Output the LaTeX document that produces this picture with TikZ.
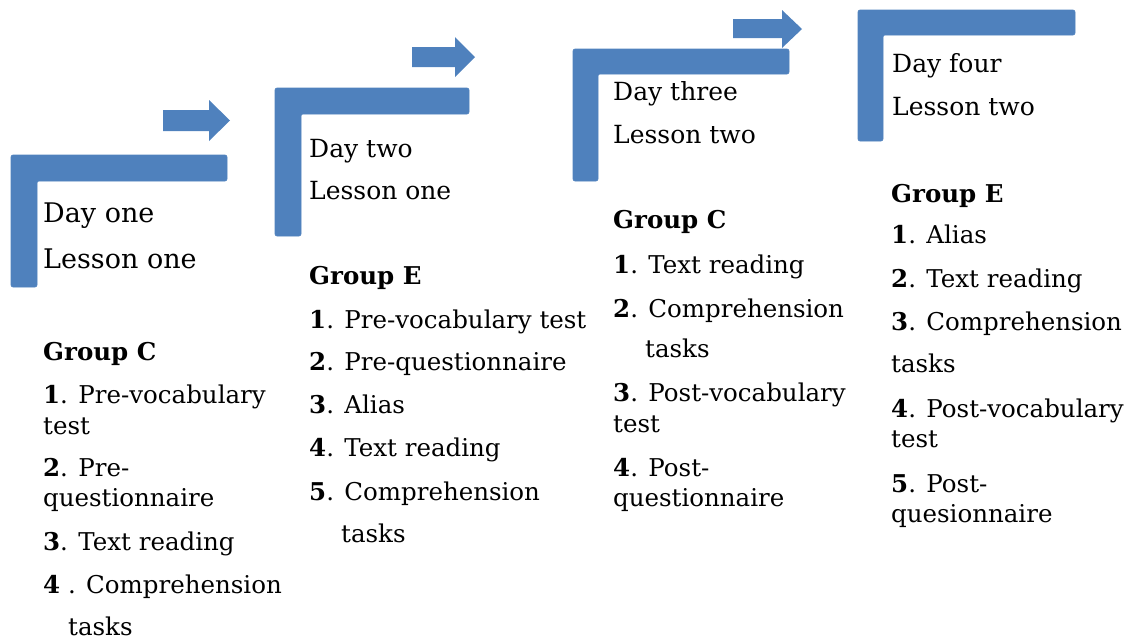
\documentclass[tikz,border=0pt]{standalone}
\usepackage{fontspec}
\setmainfont{DejaVu Serif}
\definecolor{officeblue}{HTML}{4F81BD}
\tikzset{
  lshape/.style={fill=officeblue, draw=officeblue, line width=0.6pt, rounded corners=2pt},
  bluearrow/.style={fill=officeblue, draw=none},
  daytext/.style={anchor=base west, inner sep=0pt, font=\fontsize{25}{30}\selectfont},
  daytextbig/.style={anchor=base west, inner sep=0pt, font=\fontsize{27}{32}\selectfont},
  listtext/.style={anchor=base west, inner sep=0pt, font=\fontsize{24.5}{29}\selectfont},
}
% x0 y0 x1(right end) y1(bottom end) thickness
\newcommand{\Lshape}[5]{%
  \draw[lshape] (#1,#2) -- (#3,#2) -- (#3,#2+#5) -- (#1+#5,#2+#5) -- (#1+#5,#4) -- (#1,#4) -- cycle;}
\begin{document}
\begin{tikzpicture}[x=1pt,y=-1pt]
\useasboundingbox (0,0) rectangle (1130,641);
% --- L-shaped bent arrows ---
\Lshape{11}{155}{227}{287}{26}
\Lshape{275}{88}{469}{236}{26}
\Lshape{573}{49}{789}{181}{25}
\Lshape{858}{10}{1075}{141}{25}
% --- right arrows ---
\fill[bluearrow] (163,110) -- (209,110) -- (209,100) -- (230,120.5) -- (209,141) -- (209,131) -- (163,131) -- cycle;
\fill[bluearrow] (412,47) -- (455,47) -- (455,37) -- (475,57) -- (455,77) -- (455,67) -- (412,67) -- cycle;
\fill[bluearrow] (733,19) -- (782,19) -- (782,10) -- (802,29) -- (782,48) -- (782,38) -- (733,38) -- cycle;
% --- day labels ---
\node[daytextbig] (d1a) at (43,222) {Day one};
\node[daytextbig] (d1b) at (43,268) {Lesson one};
\node[daytext] (d2a) at (309,157) {Day two};
\node[daytext] (d2b) at (309,199) {Lesson one};
\node[daytext] (d3a) at (613,100) {Day three};
\node[daytext] (d3b) at (613,143) {Lesson two};
\node[daytext] (d4a) at (892,72) {Day four};
\node[daytext] (d4b) at (892,115) {Lesson two};
% --- column 1 ---
\node[listtext] (c1g) at (43,360) {\textbf{Group C}};
\node[listtext] (c1a) at (43,403) {\textbf{1}. Pre-vocabulary};
\node[listtext] (c1b) at (43,434) {test};
\node[listtext] (c1c) at (43,476) {\textbf{2}. Pre-};
\node[listtext] (c1d) at (43,506) {questionnaire};
\node[listtext] (c1e) at (43,550) {\textbf{3}. Text reading};
\node[listtext] (c1f) at (43,593) {\textbf{4} . Comprehension};
\node[listtext] (c1h) at (68,635) {tasks};
% --- column 2 ---
\node[listtext] (c2g) at (309,284) {\textbf{Group E}};
\node[listtext] (c2a) at (309,328) {\textbf{1}. Pre-vocabulary test};
\node[listtext] (c2b) at (309,370) {\textbf{2}. Pre-questionnaire};
\node[listtext] (c2c) at (309,413) {\textbf{3}. Alias};
\node[listtext] (c2d) at (309,456) {\textbf{4}. Text reading};
\node[listtext] (c2e) at (309,500) {\textbf{5}. Comprehension};
\node[listtext] (c2f) at (341,542) {tasks};
% --- column 3 ---
\node[listtext] (c3g) at (613,228) {\textbf{Group C}};
\node[listtext] (c3a) at (613,273) {\textbf{1}. Text reading};
\node[listtext] (c3b) at (613,317) {\textbf{2}. Comprehension};
\node[listtext] (c3c) at (645,357) {tasks};
\node[listtext] (c3d) at (613,401) {\textbf{3}. Post-vocabulary};
\node[listtext] (c3e) at (613,432) {test};
\node[listtext] (c3f) at (613,476) {\textbf{4}. Post-};
\node[listtext] (c3h) at (613,506) {questionnaire};
% --- column 4 ---
\node[listtext] (c4g) at (891,202) {\textbf{Group E}};
\node[listtext] (c4a) at (891,243) {\textbf{1}. Alias};
\node[listtext] (c4b) at (891,287) {\textbf{2}. Text reading};
\node[listtext] (c4c) at (891,330) {\textbf{3}. Comprehension};
\node[listtext] (c4d) at (891,372) {tasks};
\node[listtext] (c4e) at (891,417) {\textbf{4}. Post-vocabulary};
\node[listtext] (c4f) at (891,447) {test};
\node[listtext] (c4h) at (891,492) {\textbf{5}. Post-};
\node[listtext] (c4i) at (891,522) {quesionnaire};
\end{tikzpicture}
\end{document}
